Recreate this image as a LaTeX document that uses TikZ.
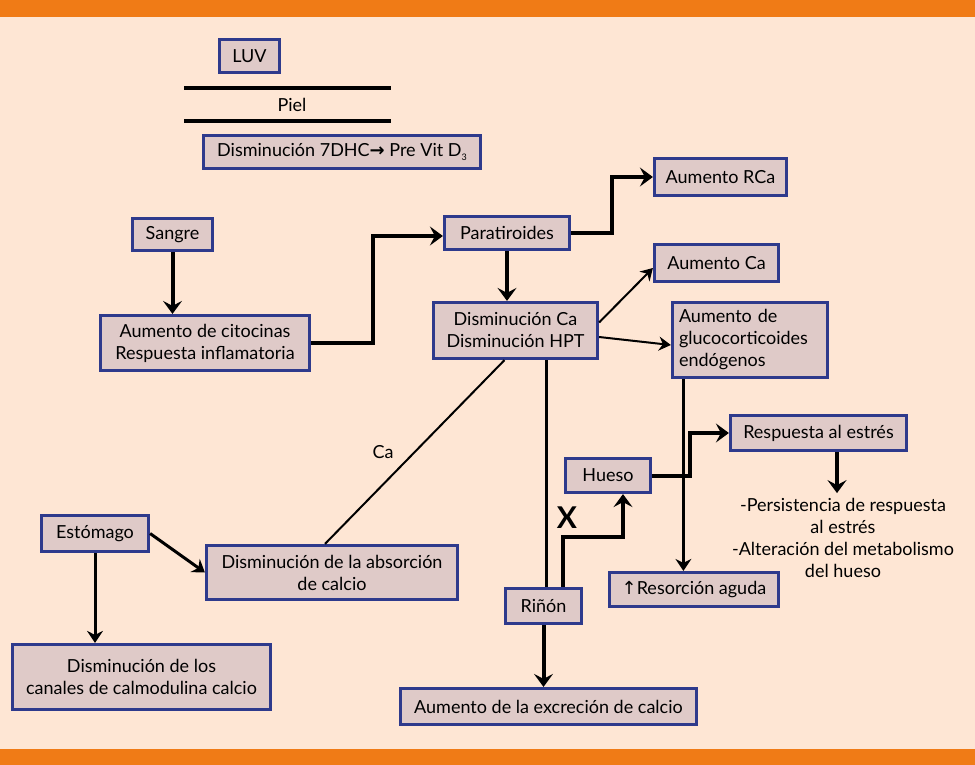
\documentclass[tikz,border=0pt]{standalone}
\usepackage{fontspec}
\setmainfont{Lato}
\newfontfamily\arrowfont{DejaVu Sans}
\usetikzlibrary{arrows.meta,calc}
\definecolor{orangebar}{HTML}{F07B16}
\definecolor{bgc}{HTML}{FEE6D4}
\definecolor{boxfill}{HTML}{DFCAC8}
\definecolor{boxline}{HTML}{2E3A8C}
\begin{document}
\begin{tikzpicture}[x=1pt,y=-1pt,
  txt/.style={font=\fontsize{18}{22}\selectfont, align=center},
  box/.style={txt, draw=boxline, fill=boxfill, line width=3.2pt, inner sep=0pt},
  bigarrow/.style={line width=4pt, -{Stealth[length=13pt,width=19pt,inset=5pt]}},
  smallarrow/.style={line width=3pt, -{Stealth[length=12pt,width=16pt,inset=4pt]}},
  plainline/.style={line width=2pt},
  midline/.style={line width=3pt},
]
\useasboundingbox (0,0) rectangle (975,765);
\fill[bgc] (0,0) rectangle (975,765);
\fill[orangebar] (0,0) rectangle (975,17);
\fill[orangebar] (0,749) rectangle (975,765);

% skin
\draw[line width=4pt] (184,88) coordinate (p1) -- (391,88) coordinate (p2);
\draw[line width=4pt] (184,121) coordinate (p3) -- (391,121) coordinate (p4);
\node[txt] (piel) at (292,105) {Piel};

% boxes
\node[box, minimum width=60, minimum height=33] (luv) at (249.5,56) {LUV};
\node[box, minimum width=277, minimum height=33] (dhc) at (342,152) {Disminución 7DHC{\arrowfont\bfseries →} Pre Vit D{\fontsize{9}{9}\selectfont\raisebox{-4pt}{3}}};
\node[box, minimum width=132, minimum height=37] (rca) at (720.5,177) {Aumento RCa};
\node[box, minimum width=125, minimum height=33] (para) at (507,233) {Paratiroides};
\node[box, minimum width=164, minimum height=56] (dismca) at (515.5,330.5) {Disminución Ca\\Disminución HPT};
\node[box, minimum width=124, minimum height=37] (aumca) at (716.5,263) {Aumento Ca};
\node[box, minimum width=155, minimum height=75, text width=142, align=left] (gluco) at (750,340) {Aumento de\\glucocorticoides\\endógenos};
\node[box, minimum width=176, minimum height=35] (resp) at (818.5,433) {Respuesta al estrés};
\node[box, minimum width=85, minimum height=34] (hueso) at (608,475.5) {Hueso};
\node[box, minimum width=169, minimum height=34] (resor) at (694,589.5) {{\arrowfont ↑}Resorción aguda};
\node[box, minimum width=76, minimum height=35] (rinon) at (543.5,606) {Riñón};
\node[box, minimum width=296, minimum height=36] (excr) at (548.5,706.5) {Aumento de la excreción de calcio};
\node[box, minimum width=80, minimum height=32] (sangre) at (172.5,234.5) {Sangre};
\node[box, minimum width=209, minimum height=55] (cito) at (205,343) {Aumento de citocinas\\Respuesta inflamatoria};
\node[box, minimum width=107, minimum height=36] (esto) at (95,533.5) {Estómago};
\node[box, minimum width=258, minimum height=65] (canal) at (141.5,677) {Disminución de los\\canales de calmodulina calcio};
\node[box, minimum width=251, minimum height=54] (absor) at (332,572.5) {Disminución de la absorción\\de calcio};
\node[txt, inner sep=5pt] (stress) at (843,538) {-Persistencia de respuesta\\al estrés\\-Alteración del metabolismo\\del hueso};
\node[txt] (ca) at (383,452) {Ca};
\node[font=\fontsize{30}{30}\selectfont\bfseries] (xmark) at (567,518) {X};

% connectors
\draw[bigarrow] (sangre.south) -- (sangre.south |- cito.north);
\draw[bigarrow] (cito.east) -| (373,236) -- (para.west |- 0,236);
\draw[bigarrow] (para.east) -| (612,177) -- (rca.west);
\draw[bigarrow] (para.south) -- (para.south |- dismca.north);
\draw[plainline, -{Stealth[length=12pt,width=14pt,inset=4pt]}] ($(dismca.east)+(0,-8)$) -- ($(aumca.west)+(0,5)$);
\draw[plainline, -{Stealth[length=12pt,width=14pt,inset=4pt]}] ($(dismca.east)+(0,6.5)$) -- ($(gluco.west)+(0,5)$);
\draw[plainline] ($(dismca.south)+(-11,0)$) -- ($(absor.north)+(-7,0)$);
\draw[midline] ($(dismca.south)+(30.5,0)$) -- ($(rinon.north)+(2.5,0)$);
\draw[bigarrow] ($(rinon.north)+(19.5,0)$) |- (623,537) -- ($(hueso.south)+(15,0)$);
\draw[bigarrow] (rinon.south) -- (rinon.south |- excr.north);
\draw[midline, -{Stealth[length=12pt,width=16pt,inset=4pt]}] ($(gluco.south west)+(12.5,0)$) coordinate (g1) -- (g1 |- resor.north);
\draw[bigarrow] (hueso.east) -| (690,433) -- (resp.west);
\draw[bigarrow] ($(resp.south)+(18.5,0)$) coordinate (r1) -- (r1 |- stress.north);
\draw[smallarrow] (esto.south) -- (esto.south |- canal.north);
\draw[smallarrow] (esto.east) -- (absor.west);
\end{tikzpicture}
\end{document}
